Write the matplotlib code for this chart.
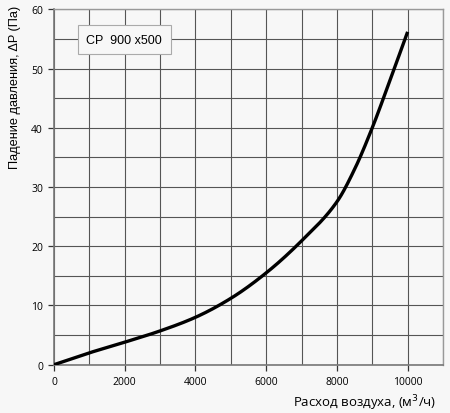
import matplotlib
matplotlib.use("Agg")
import matplotlib.pyplot as plt
import numpy as np

flow = [0, 1000, 2000, 3000, 4000, 5000, 6000, 7000, 8000, 8500, 9000, 9500, 10000]
dp = [0, 2.0, 3.8, 5.7, 8.0, 11.2, 15.5, 20.9, 27.5, 33.0, 40.0, 48.0, 56.2]
xticks = [0, 2000, 4000, 6000, 8000, 10000]
yticks = [0, 10, 20, 30, 40, 50, 60]
label = "CP  900 x500"

bg = "#f7f7f7"
fig = plt.figure(figsize=(4.5, 4.14), dpi=100, facecolor=bg)
ax = fig.add_axes([0.12, 0.1167, 0.8644, 0.8583], facecolor=bg)

# monotone cubic (PCHIP) interpolation through read points
xs = np.linspace(0, 10000, 400)
x = np.array(flow, float); y = np.array(dp, float)
h = np.diff(x); d = np.diff(y) / h
m = np.zeros_like(y)
for i in range(1, len(x) - 1):
    if d[i-1] * d[i] > 0:
        w1 = 2*h[i] + h[i-1]; w2 = h[i] + 2*h[i-1]
        m[i] = (w1 + w2) / (w1 / d[i-1] + w2 / d[i])
m[0] = d[0]; m[-1] = d[-1]
ys = np.empty_like(xs)
for k, xv in enumerate(xs):
    i = min(np.searchsorted(x, xv, side="right") - 1, len(x) - 2)
    t = (xv - x[i]) / h[i]
    h00 = 2*t**3 - 3*t**2 + 1; h10 = t**3 - 2*t**2 + t
    h01 = -2*t**3 + 3*t**2; h11 = t**3 - t**2
    ys[k] = h00*y[i] + h10*h[i]*m[i] + h01*y[i+1] + h11*h[i]*m[i+1]

ax.plot(xs, ys, color="black", lw=2.4, solid_capstyle="butt", zorder=3)

ax.set_xlim(0, 11000)
ax.set_ylim(0, 60)
ax.set_xticks(np.arange(0, 11001, 1000), minor=True)
ax.set_yticks(np.arange(0, 61, 5), minor=True)
ax.set_xticks(xticks)
ax.set_yticks(yticks)
ax.grid(True, which="both", color="#555555", lw=0.8)
ax.tick_params(which="both", length=0)
ax.tick_params(axis="both", which="major", length=4, color="#333333", width=0.9,
               labelsize=7.5, pad=4)
for lbl in ax.get_xticklabels() + ax.get_yticklabels():
    lbl.set_family("Open Sans")
for s in ["left", "bottom"]:
    ax.spines[s].set_color("#777777"); ax.spines[s].set_linewidth(1.2)
for s in ["top", "right"]:
    ax.spines[s].set_color("#999999"); ax.spines[s].set_linewidth(1.0)

ax.text(0.083, 0.915, label, transform=ax.transAxes, fontsize=9, family="Liberation Sans",
        va="center", ha="left", zorder=5,
        bbox=dict(boxstyle="square,pad=0.7", facecolor=bg, edgecolor="#aaaaaa", lw=0.8))

fig.text(0.034, 0.79, "Падение давления, ΔP (Па)", rotation=90, fontsize=9.2,
         family="Liberation Sans", ha="center", va="center")
fig.text(0.97, 0.025, "Расход воздуха, (м$^3$/ч)", fontsize=9.5, family="Open Sans",
         ha="right", va="center")

fig.savefig("out.png", dpi=100, facecolor=bg)
